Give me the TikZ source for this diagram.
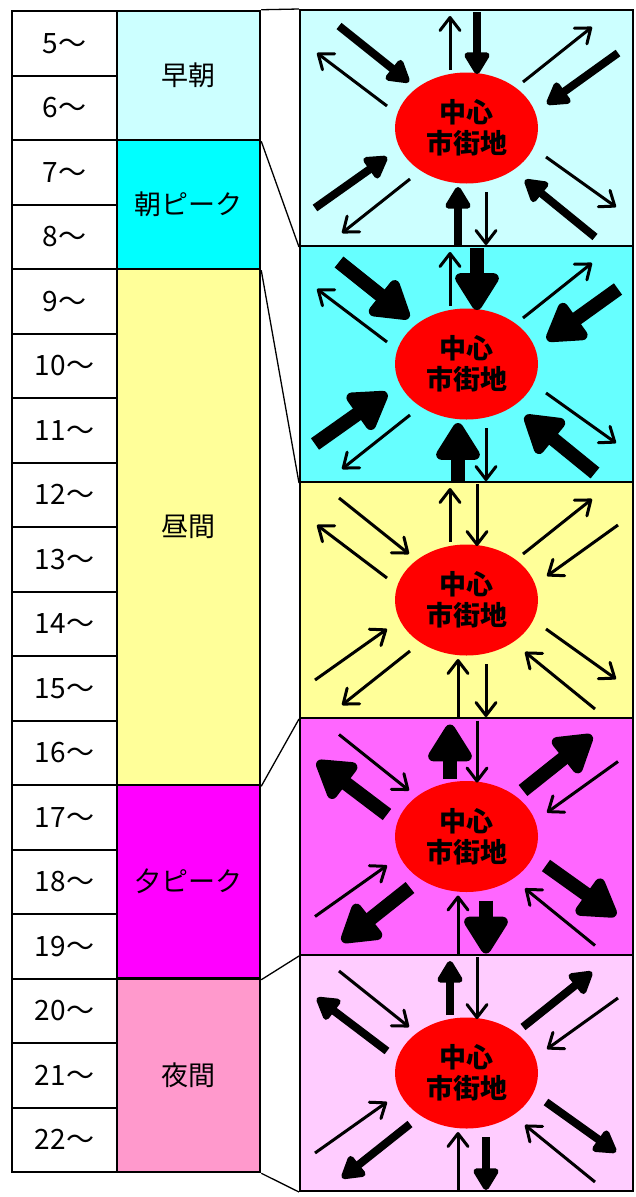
\documentclass[tikz,border=0pt]{standalone}
\usepackage{fontspec}
\newfontfamily\jp{Noto Sans CJK JP}
\usetikzlibrary{arrows.meta,shapes.geometric,calc}
\definecolor{cA}{HTML}{CCFFFF}
\definecolor{cB}{HTML}{00FFFF}
\definecolor{cBp}{HTML}{66FFFF}
\definecolor{cC}{HTML}{FFFF99}
\definecolor{cD}{HTML}{FF00FF}
\definecolor{cDp}{HTML}{FF66FF}
\definecolor{cE}{HTML}{FF99CC}
\definecolor{cEp}{HTML}{FFCCFF}
\definecolor{cRed}{HTML}{FF0000}
\newcommand\sunarrows[3]{%
 \draw[#3] ($(#1)+(-16.5,-58)$) -- ($(#1)+(-16.5,-112)$);
 \draw[#2] ($(#1)+(10.5,-116)$) -- ($(#1)+(10.5,-54)$);
 \draw[#2] ($(#1)+(-8.5,118)$) -- ($(#1)+(-8.5,59)$);
 \draw[#3] ($(#1)+(19.5,64)$) -- ($(#1)+(19.5,117)$);
 \draw[#2] ($(#1)+(-127.5,-102)$) -- ($(#1)+(-57.5,-46)$);
 \draw[#3] ($(#1)+(-79.5,-22)$) -- ($(#1)+(-149.5,-75)$);
 \draw[#3] ($(#1)+(56.5,-46)$) -- ($(#1)+(125.5,-101)$);
 \draw[#2] ($(#1)+(151.5,-75)$) -- ($(#1)+(80.5,-24)$);
 \draw[#2] ($(#1)+(-151.5,80)$) -- ($(#1)+(-79.5,29)$);
 \draw[#3] ($(#1)+(-56.5,51)$) -- ($(#1)+(-124.5,105)$);
 \draw[#3] ($(#1)+(79.5,29)$) -- ($(#1)+(149.5,79)$);
 \draw[#2] ($(#1)+(128.5,109)$) -- ($(#1)+(58.5,52)$);
}
\begin{document}
\begin{tikzpicture}[x=1pt,y=-1pt,
  hourcell/.style={draw=black,line width=2pt,fill=white,minimum width=105pt,minimum height=64.5pt,inner sep=0pt,
    font=\jp\fontsize{28}{30}\selectfont},
  period/.style={draw=black,line width=2.5pt,minimum width=143pt,inner sep=0pt,
    font=\jp\fontsize{27}{30}\selectfont},
  panel/.style={draw=black,line width=2pt,minimum width=333pt,inner sep=0pt},
  blob/.style={ellipse,fill=cRed,minimum width=143pt,minimum height=111pt,inner sep=0pt,align=center,
    font=\jp\bfseries\fontsize{27}{31}\selectfont},
  conn/.style={draw=black,line width=1.3pt},
  thinA/.style={line width=3pt,-{Straight Barb[length=13pt,width=20pt,round]}},
  medA/.style={line width=8pt,-{Triangle[length=25pt,width=28pt,round]}},
  bigA/.style={line width=14pt,-{Triangle[length=42pt,width=49pt,round]}}
]
\useasboundingbox (0,0) rectangle (635,1197);
\fill[white] (0,0) rectangle (635,1197);

% hour cells
\foreach \i in {0,...,17}{%
  \pgfmathtruncatemacro\h{\i+5}%
  \node[hourcell] (h\h) at (64.5,{11+64.5*\i+32.25}) {\h～};
}

% period boxes
\node[period,fill=cA,minimum height=129pt] (p1) at (188.5,75.5) {早朝};
\node[period,fill=cB,minimum height=129pt] (p2) at (188.5,204.5) {朝ピーク};
\node[period,fill=cC,minimum height=516pt] (p3) at (188.5,527) {昼間};
\node[period,fill=cD,minimum height=193.5pt] (p4) at (188.5,881.75) {夕ピーク};
\node[period,fill=cE,minimum height=193.5pt] (p5) at (188.5,1075.25) {夜間};

% panels
\node[panel,fill=cA,minimum height=236pt] (q1) at (466.5,128) {};
\node[panel,fill=cBp,minimum height=236pt] (q2) at (466.5,364) {};
\node[panel,fill=cC,minimum height=236pt] (q3) at (466.5,600) {};
\node[panel,fill=cDp,minimum height=237pt] (q4) at (466.5,836.5) {};
\node[panel,fill=cEp,minimum height=236pt] (q5) at (466.5,1073) {};

% connectors
\draw[conn] (p1.north east) -- (q1.north west);
\draw[conn] (p1.south east) -- (q1.south west);
\draw[conn] (p2.south east) -- (q2.south west);
\draw[conn] (p3.south east) -- (q3.south west);
\draw[conn] (p4.south east) -- (q4.south west);
\draw[conn] (p5.south east) -- (q5.south west);

% centres
\node[blob] (e1) at (q1.center) {中心\\市街地};
\node[blob] (e2) at (q2.center) {中心\\市街地};
\node[blob] (e3) at (q3.center) {中心\\市街地};
\node[blob] (e4) at (q4.center) {中心\\市街地};
\node[blob] (e5) at (q5.center) {中心\\市街地};

\sunarrows{e1}{medA}{thinA}
\sunarrows{e2}{bigA}{thinA}
\sunarrows{e3}{thinA}{thinA}
\sunarrows{e4}{thinA}{bigA}
\sunarrows{e5}{thinA}{medA}
\end{tikzpicture}
\end{document}
